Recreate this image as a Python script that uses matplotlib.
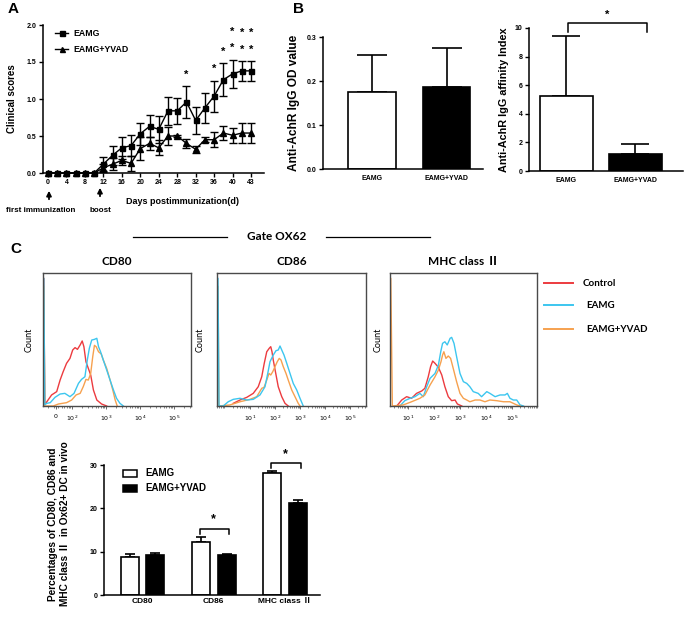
import matplotlib
matplotlib.use('Agg')
import matplotlib.pyplot as plt
from matplotlib.lines import Line2D
from matplotlib.patches import Rectangle
import numpy as np

# ---------------- data ----------------
# Panel A: clinical scores
day_labels = [0, 2, 4, 6, 8, 10, 12, 14, 16, 18, 20, 22, 24, 26, 28, 30, 32, 34, 36, 38, 40, 42, 43]
eamg = [0, 0, 0, 0, 0, 0, 0.12, 0.24, 0.34, 0.37, 0.53, 0.63, 0.59, 0.84, 0.84, 0.96, 0.71, 0.88, 1.04, 1.26, 1.34, 1.38, 1.38]
eamg_err = [0, 0, 0, 0, 0, 0, 0.09, 0.13, 0.15, 0.14, 0.15, 0.15, 0.18, 0.19, 0.18, 0.21, 0.18, 0.20, 0.21, 0.22, 0.19, 0.13, 0.13]
yvad = [0, 0, 0, 0, 0, 0, 0.07, 0.12, 0.17, 0.13, 0.33, 0.40, 0.34, 0.50, 0.50, 0.40, 0.32, 0.45, 0.45, 0.54, 0.51, 0.54, 0.54]
yvad_err = [0, 0, 0, 0, 0, 0, 0.05, 0.08, 0.06, 0.10, 0.15, 0.09, 0.10, 0.12, 0.02, 0.06, 0.05, 0.03, 0.10, 0.10, 0.10, 0.13, 0.13]
tick_days = [0, 4, 8, 12, 16, 20, 24, 28, 32, 36, 40, 43]
star_days = [30, 36, 38, 40, 42, 43]
star_counts = [1, 1, 1, 2, 2, 2]

# Panel B
groups = ["EAMG", "EAMG+YVAD"]
od_mean = [0.175, 0.187]
od_sem = [0.085, 0.087]
aff_mean = [5.25, 1.2]
aff_sem = [4.2, 0.7]

# Panel C histograms (x in log10 fluorescence units, y in % of max count)
h1_red_x = [1.16, 1.17, 1.20, 1.26, 1.40, 1.55, 1.65, 1.74, 1.84, 1.94, 2.02, 2.09, 2.16, 2.24, 2.30, 2.35, 2.41, 2.48, 2.55, 2.63, 2.73, 2.87, 3.02]
h1_red_y = [96, 96, 1, 3.2, 8.3, 10.8, 19.5, 25.8, 32.1, 35.8, 42.1, 43.9, 42.6, 45.9, 48.9, 44.6, 33.3, 28.3, 23.3, 12.0, 4.5, 1.5, 0]
h1_cyan_x = [1.16, 1.17, 1.20, 1.26, 1.36, 1.50, 1.65, 1.79, 1.94, 2.06, 2.19, 2.28, 2.38, 2.45, 2.51, 2.58, 2.66, 2.73, 2.78, 2.84, 2.92, 3.02, 3.12, 3.22, 3.31, 3.41, 3.51]
h1_cyan_y = [96, 96, 1, 2.0, 2.5, 6.5, 9.0, 9.5, 7.0, 9.5, 17.0, 20.0, 22.0, 34.6, 43.4, 49.6, 50.1, 50.9, 44.6, 40.8, 34.6, 27.1, 19.5, 12.0, 5.8, 2.0, 0]
h1_orange_x = [1.16, 1.17, 1.20, 1.45, 1.60, 1.84, 1.99, 2.12, 2.24, 2.33, 2.41, 2.48, 2.55, 2.61, 2.66, 2.71, 2.78, 2.86, 2.92, 3.02, 3.12, 3.20, 3.27, 3.33]
h1_orange_y = [90, 90, 0, 0, 1.5, 2.5, 4.5, 8.3, 9.5, 14.5, 20.0, 19.5, 24.5, 37.1, 45.6, 44.6, 40.8, 39.1, 34.6, 28.3, 19.5, 12.0, 4.5, 0]

h2_red_x = [0.33, 0.60, 0.87, 1.13, 1.33, 1.47, 1.57, 1.67, 1.77, 1.83, 1.88, 1.93, 2.03, 2.13, 2.27, 2.40, 2.53]
h2_red_y = [2.0, 4.5, 6.5, 9.5, 14.5, 22.0, 32.1, 40.8, 43.4, 44.6, 40.8, 34.6, 24.5, 14.5, 7.0, 2.0, 0]
h2_cyan_x = [-0.29, -0.28, -0.24, -0.07, 0.13, 0.33, 0.60, 0.87, 1.13, 1.40, 1.60, 1.71, 1.80, 1.93, 2.04, 2.13, 2.20, 2.27, 2.36, 2.47, 2.60, 2.73, 2.87, 3.00, 3.13]
h2_cyan_y = [96, 96, 0, 0, 3.2, 5.0, 5.8, 4.5, 5.0, 8.3, 14.5, 24.5, 33.3, 38.3, 41.6, 42.1, 45.1, 42.1, 38.3, 32.1, 24.5, 17.0, 12.0, 5.8, 0]
h2_orange_x = [-0.29, -0.28, -0.24, 0.20, 0.60, 1.00, 1.27, 1.47, 1.56, 1.67, 1.76, 1.83, 1.91, 2.00, 2.09, 2.17, 2.24, 2.33, 2.44, 2.53, 2.67, 2.80, 2.93, 3.00]
h2_orange_y = [90, 90, 0, 0.8, 3.2, 5.0, 7.0, 13.3, 14.0, 19.5, 24.5, 23.3, 25.8, 29.6, 33.3, 35.8, 34.6, 29.6, 24.5, 19.5, 12.0, 7.0, 2.0, 0]

h3_red_x = [0.57, 0.76, 0.95, 1.14, 1.33, 1.53, 1.65, 1.78, 1.87, 1.95, 2.04, 2.17, 2.30, 2.42, 2.55, 2.68, 2.81, 2.90, 3.07]
h3_red_y = [0, 4.5, 7.0, 5.8, 9.5, 11.3, 13.3, 22.0, 29.6, 33.8, 32.1, 29.1, 23.3, 14.5, 7.0, 4.0, 4.5, 1.5, 0]
h3_cyan_x = [0.69, 0.88, 1.08, 1.27, 1.46, 1.59, 1.72, 1.85, 2.04, 2.17, 2.26, 2.33, 2.42, 2.51, 2.62, 2.68, 2.77, 2.87, 3.00, 3.13, 3.26, 3.38, 3.51, 3.70, 3.83, 4.03, 4.15, 4.35, 4.54, 4.73, 4.82, 4.92, 5.05, 5.18, 5.31, 5.44]
h3_cyan_y = [0, 4.0, 5.8, 7.0, 9.5, 7.0, 14.5, 20.8, 24.5, 30.8, 40.8, 47.1, 48.3, 45.9, 50.9, 51.6, 47.1, 37.1, 24.5, 18.3, 17.0, 14.5, 10.8, 9.5, 7.0, 10.8, 9.5, 7.0, 8.3, 8.3, 9.5, 5.8, 4.5, 4.5, 0.8, 0]
h3_orange_x = [0.33, 0.34, 0.40, 0.82, 1.14, 1.46, 1.65, 1.85, 2.04, 2.17, 2.27, 2.33, 2.38, 2.46, 2.55, 2.64, 2.74, 2.87, 3.00, 3.13, 3.26, 3.38, 3.58, 3.77, 3.96, 4.15, 4.41, 4.67, 4.92, 5.18, 5.31]
h3_orange_y = [96, 96, 0, 0.8, 3.2, 5.8, 8.3, 15.8, 22.0, 27.1, 33.3, 38.3, 40.8, 35.8, 37.6, 35.8, 28.3, 18.3, 9.5, 5.8, 4.5, 3.2, 4.5, 4.5, 3.2, 4.5, 4.0, 3.2, 3.2, 0.8, 0]

# Bottom bar chart
markers = ["CD80", "CD86", "MHC class \u2161"]
pct_eamg = [8.8, 12.3, 28.1]
pct_eamg_err = [0.6, 1.2, 0.5]
pct_yvad = [9.2, 9.2, 21.2]
pct_yvad_err = [0.6, 0.2, 0.7]
sig_markers = [1, 2]

# ---------------- figure ----------------
W, H = 685, 617
fig = plt.figure(figsize=(W / 100, H / 100), dpi=100)
ARIAL = ['Liberation Sans', 'DejaVu Sans']
CAL = ['Lato', 'Noto Sans CJK SC', 'DejaVu Sans']
RED, CYAN, ORANGE = '#ec3b3f', '#3cc6ef', '#f6a14f'


def add_ax(l, t, r, b):
    return fig.add_axes([l / W, 1 - b / H, (r - l) / W, (b - t) / H])


def fx(x):
    return x / W


def fy(y):
    return 1 - y / H


def prism_style(ax):
    for s in ['top', 'right']:
        ax.spines[s].set_visible(False)
    for s in ['left', 'bottom']:
        ax.spines[s].set_linewidth(1.1)
    ax.tick_params(direction='out', length=3, width=1.0, labelsize=5, pad=1.5)
    for lab in ax.get_xticklabels() + ax.get_yticklabels():
        lab.set_family(ARIAL)
        lab.set_fontweight('bold')


# ---------- Panel A ----------
axA = add_ax(43, 25, 264, 173)
idx = np.arange(len(day_labels))
ea = np.array(eamg); ee = np.array(eamg_err)
ya = np.array(yvad); ye = np.array(yvad_err)
axA.plot(idx, ea, '-s', color='k', ms=3.6, lw=1.0, clip_on=False, zorder=4)
axA.plot(idx, ya, '-^', color='k', ms=3.8, lw=1.0, clip_on=False, zorder=4)
m = ee > 0
axA.errorbar(idx[m], ea[m], yerr=ee[m], fmt='none', ecolor='k', elinewidth=1.0, capsize=2.6, capthick=1.0)
m = ye > 0
axA.errorbar(idx[m], ya[m], yerr=ye[m], fmt='none', ecolor='k', elinewidth=1.0, capsize=2.6, capthick=1.0)
axA.set_xlim(-0.54, 23.4)
axA.set_ylim(0, 2.0)
axA.set_yticks([0, 0.5, 1.0, 1.5, 2.0])
axA.set_yticklabels(['0.0', '0.5', '1.0', '1.5', '2.0'])
axA.set_xticks([day_labels.index(d) for d in tick_days])
axA.set_xticklabels([str(d) for d in tick_days])
prism_style(axA)
axA.set_ylabel('Clinical scores', family=ARIAL, fontweight='bold', fontsize=7, labelpad=7)
for d, c in zip(star_days, star_counts):
    i = day_labels.index(d)
    top = ea[i] + ee[i]
    for k in range(c):
        axA.text(i, top + 0.16 + 0.22 * k, '*', ha='center', va='center', fontsize=8,
                 family=ARIAL, fontweight='bold', clip_on=False)

# legend A
for yy, mk, lab in [(33, 's', 'EAMG'), (49, '^', 'EAMG+YVAD')]:
    fig.add_artist(Line2D([fx(55), fx(68)], [fy(yy), fy(yy)], color='k', lw=1.0,
                          transform=fig.transFigure))
    fig.add_artist(Line2D([fx(61.5)], [fy(yy)], color='k', marker=mk, ms=3.6,
                          transform=fig.transFigure))
    fig.text(fx(73), fy(yy), lab, family=ARIAL, fontweight='bold', fontsize=6.3, va='center')

fig.text(fx(126), fy(202), 'Days postimmunization(d)', family=ARIAL, fontweight='bold',
         fontsize=6.5, va='center', ha='left')
fig.text(fx(41), fy(211), 'first immunization', family=ARIAL, fontweight='bold',
         fontsize=5.8, va='center', ha='center')
fig.text(fx(100.5), fy(211), 'boost', family=ARIAL, fontweight='bold',
         fontsize=5.8, va='center', ha='center')
for xa, y0, y1 in [(49, 202, 188), (100, 199, 185)]:
    fig.add_artist(matplotlib.patches.FancyArrowPatch((fx(xa), fy(y0)), (fx(xa), fy(y1)),
                   transform=fig.transFigure, arrowstyle='-|>', mutation_scale=7,
                   lw=1.3, color='k'))
fig.text(fx(8), fy(9), 'A', family=ARIAL, fontweight='bold', fontsize=11, va='center')

# ---------- Panel B ----------
xb = np.arange(len(groups))
axB1 = add_ax(323, 37, 483, 169)
axB1.bar(xb, od_mean, width=0.64, color=['white', 'black'], edgecolor='black', lw=1.2, zorder=2)
axB1.errorbar(xb, od_mean, yerr=[np.zeros(2), od_sem], fmt='none', ecolor='black',
              elinewidth=1.2, capsize=11, capthick=1.2, zorder=1)
axB1.set_xlim(-0.66, 1.49)
axB1.set_ylim(0, 0.3)
axB1.set_yticks([0, 0.1, 0.2, 0.3])
axB1.set_yticklabels(['0.0', '0.1', '0.2', '0.3'])
axB1.set_xticks(xb)
axB1.set_xticklabels(groups)
prism_style(axB1)
axB1.tick_params(axis='x', length=0, pad=4)
axB1.set_ylabel('Anti-AchR IgG OD value', family=ARIAL, fontweight='bold', fontsize=8.6, labelpad=5)
fig.text(fx(293), fy(9), 'B', family=ARIAL, fontweight='bold', fontsize=11, va='center')

axB2 = add_ax(529, 28, 683, 171)
axB2.bar(xb, aff_mean, width=0.77, color=['white', 'black'], edgecolor='black', lw=1.2, zorder=2)
axB2.errorbar(xb, aff_mean, yerr=[np.zeros(2), aff_sem], fmt='none', ecolor='black',
              elinewidth=1.2, capsize=10, capthick=1.2, zorder=1)
axB2.set_xlim(-0.54, 1.69)
axB2.set_ylim(0, 10)
axB2.set_yticks([0, 2, 4, 6, 8, 10])
axB2.set_xticks(xb)
axB2.set_xticklabels(groups)
prism_style(axB2)
axB2.tick_params(axis='x', length=0, pad=4)
axB2.set_ylabel('Anti-AchR IgG affinity Index', family=ARIAL, fontweight='bold', fontsize=7.8, labelpad=4)
ytop = max(np.array(aff_mean) + np.array(aff_sem))
axB2.plot([0.02, 0.02, 1.17, 1.17], [ytop + 0.25, ytop + 0.9, ytop + 0.9, ytop + 0.25], color='k', lw=1.1, clip_on=False)
axB2.text(0.59, ytop + 1.5, '*', ha='center', va='center', fontsize=8, family=ARIAL,
          fontweight='bold', clip_on=False)

# ---------- Panel C ----------
fig.text(fx(10), fy(249), 'C', family=ARIAL, fontweight='bold', fontsize=11, va='center')
fig.text(fx(277), fy(237), 'Gate OX62', family=CAL, fontweight='bold', fontsize=8.5,
         ha='center', va='center')
for x0, x1 in [(133, 227), (326, 430)]:
    fig.add_artist(Line2D([fx(x0), fx(x1)], [fy(237), fy(237)], color='k', lw=0.9,
                          transform=fig.transFigure))

hist_specs = [
    ((43, 273, 191, 406), (1.147, 5.5), 'CD80', [1.53, 2, 3, 4, 5],
     ['0', r'$10^2$', r'$10^3$', r'$10^4$', r'$10^5$'],
     [(h1_red_x, h1_red_y, RED), (h1_orange_x, h1_orange_y, ORANGE), (h1_cyan_x, h1_cyan_y, CYAN)], 29),
    ((217, 273, 366, 406), (-0.32, 5.64), 'CD86', [1, 2, 3, 4, 5],
     [r'$10^1$', r'$10^2$', r'$10^3$', r'$10^4$', r'$10^5$'],
     [(h2_red_x, h2_red_y, RED), (h2_orange_x, h2_orange_y, ORANGE), (h2_cyan_x, h2_cyan_y, CYAN)], 200),
    ((390, 273, 537, 406), (0.31, 5.96), 'MHC class \u2161', [1, 2, 3, 4, 5],
     [r'$10^1$', r'$10^2$', r'$10^3$', r'$10^4$', r'$10^5$'],
     [(h3_red_x, h3_red_y, RED), (h3_cyan_x, h3_cyan_y, CYAN), (h3_orange_x, h3_orange_y, ORANGE)], 378),
]
for box, xl, title, tpos, tlab, curves, cx in hist_specs:
    ax = add_ax(*box)
    for xs, ys, col in curves:
        ax.plot(xs, ys, color=col, lw=1.0)
    ax.set_xlim(*xl)
    ax.set_ylim(0, 100)
    ax.set_yticks([])
    ax.set_xticks(tpos)
    ax.set_xticklabels(tlab)
    minor = [d + np.log10(k) for d in range(-1, 6) for k in range(2, 10)
             if xl[0] < d + np.log10(k) < xl[1]]
    ax.set_xticks(minor, minor=True)
    ax.tick_params(axis='x', which='major', length=2.5, width=0.6, labelsize=4.5, pad=3, color='#555')
    ax.tick_params(axis='x', which='minor', length=1.5, width=0.5, color='#555')
    for s in ax.spines.values():
        s.set_color('#4a4a4a')
        s.set_linewidth(1.0)
    ax.set_title(title, family=CAL, fontweight='bold', fontsize=8.5, pad=6)
    fig.text(fx(cx), fy(340), 'Count', family=CAL, fontsize=6.5, rotation=90,
             ha='center', va='center')

for yy, col, lab in [(283, RED, 'Control'), (305, CYAN, 'EAMG'), (329, ORANGE, 'EAMG+YVAD')]:
    fig.add_artist(Line2D([fx(544), fx(573)], [fy(yy), fy(yy)], color=col, lw=1.4,
                          transform=fig.transFigure))
    fig.text(fx(583 if lab == 'Control' else 586), fy(yy), lab, family=CAL, fontweight='bold',
             fontsize=7, va='center')

# ---------- Bottom bar chart ----------
axD = add_ax(104, 465, 320, 595)
xg = np.arange(len(markers))
off, bw = 0.18, 0.25
axD.bar(xg - off, pct_eamg, width=bw, color='white', edgecolor='black', lw=1.2, zorder=2)
axD.bar(xg + off, pct_yvad, width=bw, color='black', edgecolor='black', lw=1.2, zorder=2)
axD.errorbar(xg - off, pct_eamg, yerr=[np.zeros(3), pct_eamg_err], fmt='none', ecolor='k',
             elinewidth=1.2, capsize=3.5, capthick=1.2, zorder=1)
axD.errorbar(xg + off, pct_yvad, yerr=[np.zeros(3), pct_yvad_err], fmt='none', ecolor='k',
             elinewidth=1.2, capsize=3.5, capthick=1.2, zorder=1)
axD.set_xlim(-0.54, 2.49)
axD.set_ylim(0, 30)
axD.set_yticks([0, 10, 20, 30])
axD.set_xticks(xg)
axD.set_xticklabels(markers)
prism_style(axD)
axD.tick_params(axis='x', length=0, pad=2, labelsize=6)
for lab in axD.get_xticklabels():
    lab.set_family(['Liberation Sans', 'Noto Sans CJK SC'])
for g in sig_markers:
    top = max(pct_eamg[g] + pct_eamg_err[g], pct_yvad[g] + pct_yvad_err[g]) + 1.8
    axD.plot([g - 0.2, g - 0.2, g + 0.22, g + 0.22], [top - 1.2, top, top, top - 1.2],
             color='k', lw=1.1, clip_on=False)
    axD.text(g, top + 2.1, '*', ha='center', va='center', fontsize=9, family=ARIAL,
             fontweight='bold', clip_on=False)

fig.add_artist(Rectangle((fx(123), fy(477)), 14 / W, 7 / H, facecolor='white', edgecolor='k',
                         lw=1.1, transform=fig.transFigure))
fig.add_artist(Rectangle((fx(123), fy(492)), 14 / W, 7 / H, facecolor='black', edgecolor='k',
                         lw=1.1, transform=fig.transFigure))
fig.text(fx(145), fy(473), 'EAMG', family=ARIAL, fontweight='bold', fontsize=7, va='center')
fig.text(fx(145), fy(488), 'EAMG+YVAD', family=ARIAL, fontweight='bold', fontsize=7, va='center')
fig.text(fx(59), fy(524), 'Percentages of CD80, CD86 and\nMHC class \u2161  in Ox62+ DC in vivo',
         family=['Liberation Sans', 'Noto Sans CJK SC'], fontweight='bold', fontsize=7.3,
         rotation=90, ha='center', va='center', linespacing=1.2)

fig.savefig('out.png', dpi=100)
